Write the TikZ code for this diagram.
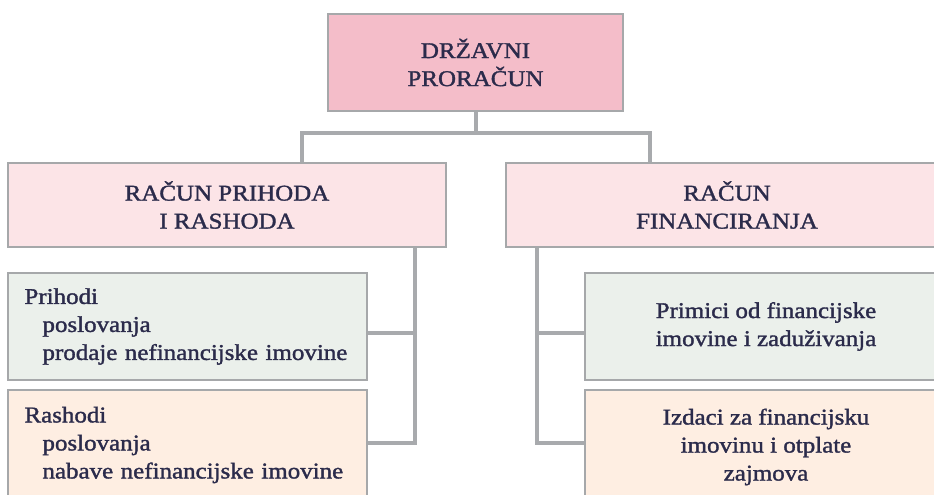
\documentclass[tikz,border=0pt]{standalone}
\usepackage{fontspec}
\setmainfont{Liberation Serif}[FakeStretch=1.11,FakeBold=1.5]
\definecolor{txt}{HTML}{2B2B4B}
\definecolor{bordc}{HTML}{A6A8AA}
\definecolor{connc}{HTML}{A8AAAD}
\definecolor{pinkA}{HTML}{F4BDC9}
\definecolor{pinkB}{HTML}{FCE4E7}
\definecolor{greenA}{HTML}{EBF0EB}
\definecolor{orangeA}{HTML}{FEEEE2}
\begin{document}
\begin{tikzpicture}[x=1pt,y=-1pt,
  box/.style={draw=bordc,line width=2.5pt,rectangle,inner sep=0pt,text=txt,align=center,
    font=\fontsize{22.5}{28}\selectfont},
  conn/.style={draw=connc,line width=4pt,line join=miter}]
\useasboundingbox (0,0) rectangle (934,495);
\clip (0,0) rectangle (934,495);
\node[box,fill=pinkA,minimum width=295pt,minimum height=97pt] (top) at (475.5,62.5) {DRŽAVNI\\PRORAČUN};
\node[box,fill=pinkB,minimum width=438pt,minimum height=84pt] (mL) at (227,205) {RAČUN PRIHODA\\I RASHODA};
\node[box,fill=pinkB,minimum width=442pt,minimum height=84pt] (mR) at (727,205) {RAČUN\\FINANCIRANJA};
\coordinate (jL) at (302,133);
\coordinate (jR) at (650,133);
\coordinate (bL1) at (415,333);
\coordinate (bL2) at (415,443);
\coordinate (bR1) at (537,333);
\coordinate (bR2) at (537,443);
\node[box,fill=greenA,minimum width=359pt,minimum height=107pt,text width=342pt,align=left] (lg) at (187.5,326.5)
  {\hspace*{8pt}Prihodi\\\hspace*{26pt}poslovanja\\\hspace*{26pt}prodaje nefinancijske imovine};
\node[box,fill=orangeA,minimum width=359pt,minimum height=110pt,text width=342pt,align=left] (lo) at (187.5,445)
  {\hspace*{8pt}Rashodi\\\hspace*{26pt}poslovanja\\\hspace*{26pt}nabave nefinancijske imovine};
\node[box,fill=greenA,minimum width=362pt,minimum height=107pt] (rg) at (766,326.5)
  {Primici od financijske\\imovine i zaduživanja};
\node[box,fill=orangeA,minimum width=362pt,minimum height=114pt] (ro) at (766,447)
  {Izdaci za financijsku\\imovinu i otplate\\zajmova};
\draw[conn] (top.south) -- (top.south |- jL);
\draw[conn] (mL.north -| jL) -- (jL) -- (jR) -- (mR.north -| jR);
\draw[conn] (mL.south -| bL1) -- (bL2) -- (lo.east |- bL2);
\draw[conn] (bL1) -- (lg.east |- bL1);
\draw[conn] (mR.south -| bR1) -- (bR2) -- (ro.west |- bR2);
\draw[conn] (bR1) -- (rg.west |- bR1);
\end{tikzpicture}
\end{document}
